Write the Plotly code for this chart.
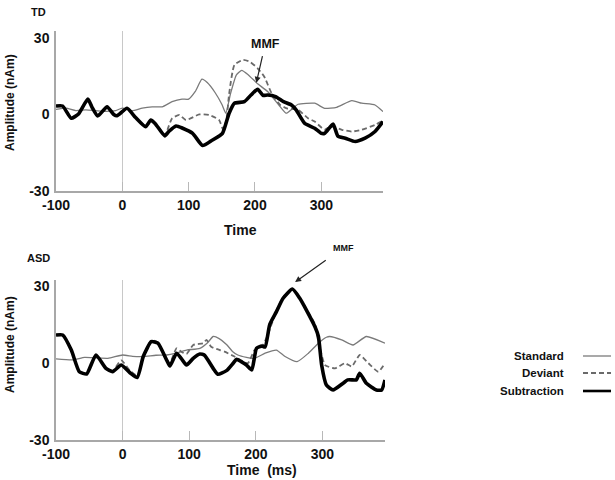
import plotly.graph_objects as go

# ---------------- TD panel data ----------------
td_std_t = [-100, -85, -70, -55, -40, -25, -10, 0, 15, 30, 45, 60, 75, 90, 100, 110, 120, 128,
            140, 150, 156, 163, 172, 180, 190, 204, 219, 236, 247, 257, 265, 290, 305, 323,
            346, 361, 381, 393]
td_std_v = [2, 2.5, 1.5, 1.8, 1.5, 1.2, 1.5, 2.5, 1.5, 2.5, 3, 3, 5, 6, 6, 9, 13.8, 12.5,
            8.5, 4, 0.5, 8, 15.5, 17.3, 15.5, 12, 9, 3.7, 0.5, 2.4, 4, 4.4, 2.4, 2.8,
            5.4, 4.4, 3.7, 1.1]

td_dev_t = [-100, -90, -77, -66, -52, -46, -37, -23, -13, -5, 7, 20, 35, 43, 50, 64, 68, 75,
            86, 96, 116, 131, 146, 152, 157, 161, 169, 182, 192, 204, 214, 225, 238, 248,
            265, 280, 290, 305, 315, 331, 346, 361, 381, 393]
td_dev_v = [3.3, 3.3, -1.2, 0.3, 5.5, 3, -0.3, 2.8, 0.3, -0.2, 2.2, -1.2, -4.5, -2.2, -3.5, -8, -6, -1.5,
            -0.2, -2.2, 0, -0.2, -2.2, -6, -2, 8, 19.4, 21.4, 20.7, 18.1, 14.8, 8.3, 3.7, 2.4,
            1.8, -1.5, -2.8, -6, -4.5, -6, -6.7, -6, -4.1, -2.4]

td_sub_t = [-100, -90, -77, -66, -52, -46, -37, -23, -13, -8, 7, 20, 35, 43, 50, 64, 70, 81,
            91, 106, 121, 136, 151, 161, 169, 184, 194, 204, 212, 219, 231, 243, 255, 262,
            275, 290, 300, 305, 313, 318, 325, 336, 351, 366, 381, 393]
td_sub_v = [3.3, 3.3, -1.5, 0.2, 6, 3, -0.6, 3, 0, -0.5, 2.4, -1.2, -4.8, -2.2, -3.7, -8.4, -6.7, -4.5,
            -5.4, -7.4, -12.2, -10, -7.4, 0.5, 4.4, 5, 7.6, 9.9, 7.5, 7.6, 7, 5, 3.7, 1.8,
            -3.5, -5.4, -7.4, -7.4, -5, -3.8, -8.5, -9.3, -10.6, -9.3, -6.7, -2.8]

# ---------------- ASD panel data ----------------
asd_std_t = [-100, -75, -57, -40, -22, 0, 15, 31, 50, 66, 80, 96, 116, 128, 136, 145, 156, 165,
             173, 186, 198, 214, 231, 244, 262, 279, 294, 306, 311, 329, 346, 366, 394]
asd_std_v = [1.6, 1.2, 2.2, 2, 1.8, 3.1, 2.6, 2.5, 3, 3.1, 3.8, 5, 5.7, 8, 10.3, 9.5, 7.2, 4.5,
             3.1, 2.2, 1.8, 3.8, 5, 2.5, 0.5, 3.8, 7.7, 10, 10.3, 9, 7, 10.3, 7.7]

asd_dev_t = [-100, -90, -77, -65, -54, -40, -25, -15, -2, 11, 22, 31, 43, 53, 66, 71, 81, 88,
             96, 106, 121, 126, 133, 146, 153, 168, 188, 198, 209, 218, 231, 241, 255, 266,
             276, 289, 294, 304, 319, 334, 344, 356, 369, 384, 394]
asd_dev_v = [10.9, 10.9, 5, -3.2, -4, 3.1, -2, -3, 1, -3, -5, 2.5, 8.8, 8, 1.5, 0, 5.7, 4.4,
             3.5, 7, 7.7, 9, 6.3, 5, 4.4, 2.5, -0.1, 5, 6.3, 10.9, 20.5, 25.5, 28.8, 25.5,
             21, 15, 8.3, -0.8, -2.1, -0.1, -1.4, 3.1, -0.1, -3.4, -0.1]

asd_sub_t = [-100, -90, -77, -65, -54, -40, -25, -15, -2, 11, 22, 31, 43, 53, 66, 71, 81, 88,
             96, 106, 116, 123, 136, 143, 156, 166, 171, 178, 186, 194, 201, 209, 214, 221,
             231, 241, 255, 266, 276, 289, 294, 299, 306, 316, 331, 338, 346, 351, 356, 366,
             381, 389, 394]
asd_sub_v = [10.9, 10.9, 5, -3.4, -4.3, 3.1, -2.1, -3.4, -0.8, -3.8, -5.7, 2.5, 8.3, 7.7, 1.2, -1.2, 3.8, 1.8,
             -0.8, 1.8, 3.5, 3, -2.1, -4.4, -3, -0.1, 1.4, 0.5, -0.8, -2.7, 5.7, 6.6, 6.2, 15,
             20, 25.2, 28.8, 25.2, 20.6, 14, 10.3, -1, -8.6, -10.5, -7.9, -6.6, -6.6, -6.6, -4, -7.9,
             -10.5, -10.5, -6.6]

x_ticks = [-100, 0, 100, 200, 300]
x_tick_labels = ["-100", "0", "100", "200", "300"]
y_ticks = [-30, 0, 30]
y_tick_labels = ["-30", "0", "30"]
series_names = ["Standard", "Deviant", "Subtraction"]

FONT = "Arial, 'Liberation Sans', sans-serif"
STD_STYLE = dict(color="#7a7a7a", width=1.3)
DEV_STYLE = dict(color="#6a6a6a", width=1.8, dash="5px,3px")
SUB_STYLE = dict(color="#000000", width=3.6)

fig = go.Figure()

def add_panel(xa, ya, st, sv, dt, dv, bt, bv):
    fig.add_trace(go.Scatter(x=st, y=sv, mode="lines", line=dict(**STD_STYLE, shape="spline", smoothing=0.5),
                             xaxis=xa, yaxis=ya, showlegend=False, name="Standard"))
    fig.add_trace(go.Scatter(x=dt, y=dv, mode="lines", line=dict(**DEV_STYLE, shape="spline", smoothing=0.5),
                             xaxis=xa, yaxis=ya, showlegend=False, name="Deviant"))
    fig.add_trace(go.Scatter(x=bt, y=bv, mode="lines", line=dict(**SUB_STYLE, shape="spline", smoothing=0.5),
                             xaxis=xa, yaxis=ya, showlegend=False, name="Subtraction"))

add_panel("x", "y", td_std_t, td_std_v, td_dev_t, td_dev_v, td_sub_t, td_sub_v)
add_panel("x2", "y2", asd_std_t, asd_std_v, asd_dev_t, asd_dev_v, asd_sub_t, asd_sub_v)

def xaxis_cfg(domain, rng, anchor):
    return dict(domain=domain, range=rng, anchor=anchor, tickvals=x_ticks, ticktext=x_tick_labels,
                automargin=False, ticks="inside", ticklen=9, tickcolor="#b8b8b8", tickwidth=1,
                showline=True, linecolor="#a8a8a8", linewidth=1.5, showgrid=False,
                zeroline=True, zerolinecolor="#c8c8c8", zerolinewidth=1.2,
                tickfont=dict(family=FONT, size=14, color="#111", weight="bold"))

def yaxis_cfg(domain, rng, anchor):
    return dict(domain=domain, range=rng, anchor=anchor, tickvals=y_ticks, ticktext=y_tick_labels,
                ticks="", automargin=False,
                showline=True, linecolor="#a8a8a8", linewidth=1.5, showgrid=False,
                zeroline=False, ticklabelstandoff=2,
                tickfont=dict(family=FONT, size=14, color="#111", weight="bold"))

def ptext(text, xpx, ypx, size, angle=0, xanchor="center"):
    return dict(text=text, x=xpx/615, y=1-ypx/480, xref="paper", yref="paper", showarrow=False,
                xanchor=xanchor, yanchor="middle", textangle=angle,
                font=dict(family=FONT, size=size, color="#111"))

annotations = [
    ptext("<b>TD</b>", 38, 12, 11),
    ptext("<b>ASD</b>", 38, 258, 11),
    ptext("<b>Amplitude (nAm)</b>", 10, 103, 12, angle=-90),
    ptext("<b>Amplitude (nAm)</b>", 10, 345, 12, angle=-90),
    ptext("<b>Time</b>", 240, 230, 14),
    ptext("<b>Time\u00a0\u00a0(ms)</b>", 262, 470, 14),
    dict(text="<b>MMF</b>", x=202, y=12.4, xref="x", yref="y", ax=9, ay=-39,
         showarrow=True, arrowhead=2, arrowsize=1, arrowwidth=1.2, arrowcolor="#222",
         startstandoff=4, font=dict(family=FONT, size=12.5, color="#111")),
    dict(text="<b>MMF</b>", x=259, y=31.5, xref="x2", yref="y2", ax=48, ay=-34,
         showarrow=True, arrowhead=2, arrowsize=1, arrowwidth=1.2, arrowcolor="#222",
         startstandoff=10, font=dict(family=FONT, size=9, color="#111")),
]

shapes = []
legend_y = [356, 373, 391]
legend_styles = [STD_STYLE, DEV_STYLE, SUB_STYLE]
for name, ypx, st in zip(series_names, legend_y, legend_styles):
    annotations.append(ptext("<b>%s</b>" % name, 566, ypx, 11.5, xanchor="right"))
    lw = dict(color=st["color"], width=st["width"] if name != "Subtraction" else 2.6)
    if "dash" in st:
        lw["dash"] = st["dash"]
    shapes.append(dict(type="line", xref="paper", yref="paper", x0=583/615, x1=611/615,
                       y0=1-ypx/480, y1=1-ypx/480, line=lw))

fig.update_layout(
    width=615, height=480,
    margin=dict(l=0, r=0, t=0, b=0, pad=0, autoexpand=False),
    paper_bgcolor="white", plot_bgcolor="white",
    xaxis=xaxis_cfg([56/615, 383/615], [-100, 393], "y"),
    yaxis=yaxis_cfg([1-191/480, 1-31/480], [-30, 32.7], "x"),
    xaxis2=xaxis_cfg([56/615, 385/615], [-100, 394], "y2"),
    yaxis2=yaxis_cfg([1-440/480, 1-280/480], [-30, 32.3], "x2"),
    annotations=annotations,
    shapes=shapes,
    showlegend=False,
)

fig.write_html("out.html", config={"responsive": False, "displayModeBar": False},
               post_script="document.body.style.margin='0';document.body.style.overflow='hidden';")
